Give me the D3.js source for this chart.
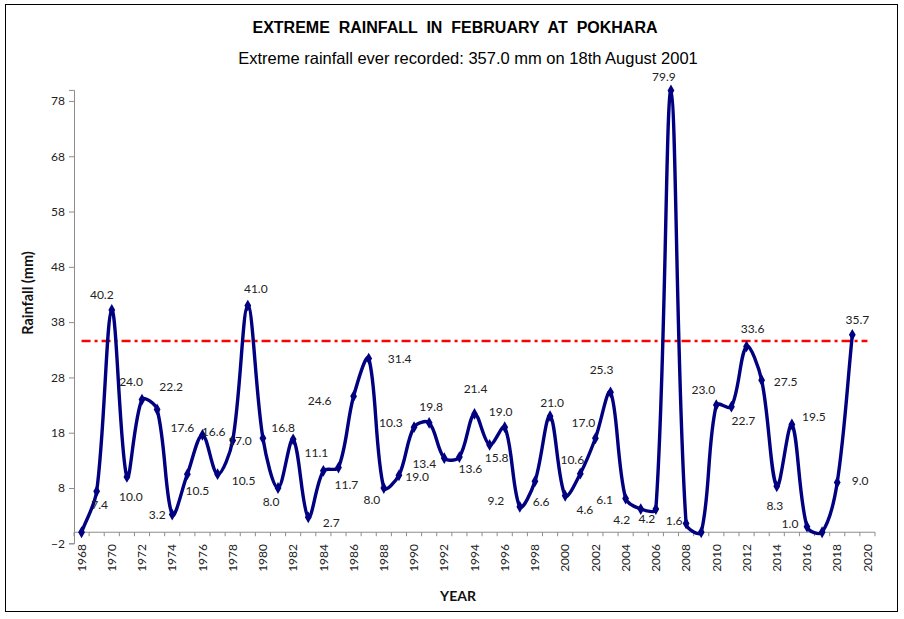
<!DOCTYPE html>
<html>
<head>
<meta charset="utf-8">
<script src="https://cdn.jsdelivr.net/npm/d3@7"></script>
<style>
  html, body { margin: 0; padding: 0; background: #fff; }
  svg { display: block; }
</style>
</head>
<body>
<svg id="chart" width="904" height="619"></svg>
<script>
// ---------------- data ----------------
const years = d3.range(1968, 2020);          // data years 1968..2019
const categories = d3.range(1968, 2021);     // axis categories 1968..2020
const rainfall = [
  0.0, 7.4, 40.2, 10.0, 24.0, 22.2, 3.2, 10.5, 17.6, 10.5,
  16.6, 41.0, 17.0, 8.0, 16.8, 2.7, 11.1, 11.7, 24.6, 31.4,
  8.0, 10.3, 19.0, 19.8, 13.4, 13.6, 21.4, 15.8, 19.0, 4.6,
  9.2, 21.0, 6.6, 10.6, 17.0, 25.3, 6.1, 4.2, 4.2, 79.9,
  1.6, 0.0, 23.0, 22.7, 33.6, 27.5, 8.3, 19.5, 1.0, 0.0,
  9.0, 35.7
];
const showLabel = rainfall.map(v => v !== 0);
const thresholdValue = 34.6;
const yTicks = [-2, 8, 18, 28, 38, 48, 58, 68, 78];
const xTickLabels = categories.filter(y => y % 2 === 0);

// label placement (pixel offsets from each point) – styling, not data
const labelOffsets = [
  [0,0],[3,13],[-10,-15],[4,20],[-11,-18],[14,-23],[-15,0],[10,17],[-20,-7],[26,7],
  [-19,-9],[8,-17],[-23,3],[-7,14],[-10,-12],[23,5],[-7,-18],[8,17],[-34,5],[31,0],
  [-12,12],[-8,-52],[3,50],[2,-16],[-20,6],[11,12],[1,-25],[7,13],[-4,-15],[65,3],
  [-39,19],[2,-13],[-24,6],[-8,-14],[-12,-15],[-9,-23],[-21,1],[-19,11],[-9,10],[-7,-14],
  [-12,-3],[0,0],[-13,-15],[12,14],[6,-18],[24,2],[-2,19],[22,-8],[-17,-3],[0,0],
  [23,-2],[5,-15]
];

// Excel-like smoothing: Bezier with tangents weighted by neighbouring chord lengths
function curveExcel(context) {
  let pts;
  const dist = (a, b) => Math.hypot(b[0] - a[0], b[1] - a[1]);
  return {
    areaStart() {}, areaEnd() {},
    lineStart() { pts = []; },
    point(x, y) { pts.push([+x, +y]); },
    lineEnd() {
      const n = pts.length;
      if (!n) return;
      context.moveTo(pts[0][0], pts[0][1]);
      for (let i = 0; i < n - 1; i++) {
        const p0 = pts[Math.max(i - 1, 0)], p1 = pts[i], p2 = pts[i + 1], p3 = pts[Math.min(i + 2, n - 1)];
        const d01 = dist(p0, p1), d12 = dist(p1, p2), d23 = dist(p2, p3);
        const f1 = (d01 + d12) ? d12 / (d01 + d12) / 3 : 0;
        const f2 = (d12 + d23) ? d12 / (d12 + d23) / 3 : 0;
        context.bezierCurveTo(
          p1[0] + (p2[0] - p0[0]) * f1, p1[1] + (p2[1] - p0[1]) * f1,
          p2[0] - (p3[0] - p1[0]) * f2, p2[1] - (p3[1] - p1[1]) * f2,
          p2[0], p2[1]);
      }
    }
  };
}

// ---------------- layout ----------------
const svg = d3.select("#chart");
const plot = { left: 74, right: 875, top: 89.9, bottom: 543.3 };

const x = d3.scaleBand().domain(categories).range([plot.left, plot.right]).padding(0);
const cx = yr => x(yr) + x.bandwidth() / 2;
const y = d3.scaleLinear().domain([-2, 80]).range([plot.bottom, plot.top]);

const axisColor = "#8c8c8c";
const labelFont = "Lato, 'Open Sans', sans-serif";

// outer border
svg.append("rect")
  .attr("x", 5.5).attr("y", 4.5).attr("width", 892).attr("height", 607)
  .attr("fill", "#fff").attr("stroke", "#000").attr("stroke-width", 1);

// titles
svg.append("text")
  .attr("x", 455).attr("y", 33)
  .attr("text-anchor", "middle")
  .attr("font-family", "'Liberation Sans', Arial, sans-serif")
  .attr("font-weight", "bold").attr("font-size", 16)
  .style("white-space", "pre")
  .text("EXTREME  RAINFALL  IN  FEBRUARY  AT  POKHARA");

svg.append("text")
  .attr("x", 468).attr("y", 64)
  .attr("text-anchor", "middle")
  .attr("font-family", "'Liberation Sans', Arial, sans-serif")
  .attr("font-size", 16.5)
  .text("Extreme rainfall ever recorded: 357.0 mm on 18th August 2001");

// y axis
const yAxis = d3.axisLeft(y).tickValues(yTicks).tickSize(5).tickPadding(4)
  .tickFormat(d3.format("d"));
const gy = svg.append("g").attr("transform", `translate(${plot.left},0)`).call(yAxis);
gy.select(".domain").attr("stroke", axisColor);
gy.selectAll(".tick line").attr("stroke", axisColor);
gy.selectAll(".tick text")
  .attr("font-family", labelFont).attr("font-size", 12).attr("fill", "#222");

// x axis at y = 0
const gx = svg.append("g").attr("transform", `translate(0,${y(0)})`);
gx.append("line")
  .attr("x1", plot.left).attr("x2", plot.right)
  .attr("stroke", axisColor);
gx.selectAll("line.xt")
  .data(categories.concat([2021]))
  .join("line").attr("class", "xt")
  .attr("x1", d => d <= 2020 ? x(d) : plot.right)
  .attr("x2", d => d <= 2020 ? x(d) : plot.right)
  .attr("y1", 0).attr("y2", 4)
  .attr("stroke", axisColor);

svg.append("g").selectAll("text")
  .data(xTickLabels)
  .join("text")
  .attr("transform", d => `translate(${cx(d)},${544}) rotate(-90)`)
  .attr("text-anchor", "end")
  .attr("dy", "0.35em")
  .attr("font-family", labelFont).attr("font-size", 12).attr("fill", "#222")
  .text(d => d);

// axis titles
svg.append("text")
  .attr("transform", "translate(33,293) rotate(-90)")
  .attr("text-anchor", "middle")
  .attr("font-family", labelFont).attr("font-weight", "bold").attr("font-size", 14.5)
  .attr("fill", "#111")
  .text("Rainfall (mm)");

svg.append("text")
  .attr("x", 458).attr("y", 601)
  .attr("text-anchor", "middle")
  .attr("font-family", labelFont).attr("font-weight", "bold").attr("font-size", 14)
  .attr("fill", "#111")
  .text("YEAR");

// threshold line (red dash-dot)
svg.append("line")
  .attr("x1", cx(1968)).attr("x2", cx(2020))
  .attr("y1", y(thresholdValue)).attr("y2", y(thresholdValue))
  .attr("stroke", "#ff0000").attr("stroke-width", 2.6)
  .attr("stroke-dasharray", "9,4,3,4");

// smoothed line
const pts = years.map((yr, i) => ({ yr, v: rainfall[i], i }));
const line = d3.line()
  .x(d => cx(d.yr)).y(d => y(d.v))
  .curve(curveExcel);
svg.append("path")
  .datum(pts)
  .attr("d", line)
  .attr("fill", "none")
  .attr("stroke", "#000080")
  .attr("stroke-width", 3.4)
  .attr("stroke-linejoin", "round");

// markers
svg.append("g").selectAll("path")
  .data(pts)
  .join("path")
  .attr("transform", d => `translate(${cx(d.yr)},${y(d.v)})`)
  .attr("d", d3.symbol().type(d3.symbolDiamond).size(40))
  .attr("fill", "#000080");

// data labels
svg.append("g").selectAll("text")
  .data(pts.filter(d => showLabel[d.i]))
  .join("text")
  .attr("x", d => cx(d.yr) + labelOffsets[d.i][0])
  .attr("y", d => y(d.v) + labelOffsets[d.i][1])
  .attr("dy", "0.35em")
  .attr("text-anchor", "middle")
  .attr("font-family", labelFont).attr("font-size", 12).attr("fill", "#222")
  .text(d => d.v.toFixed(1));
</script>
</body>
</html>
